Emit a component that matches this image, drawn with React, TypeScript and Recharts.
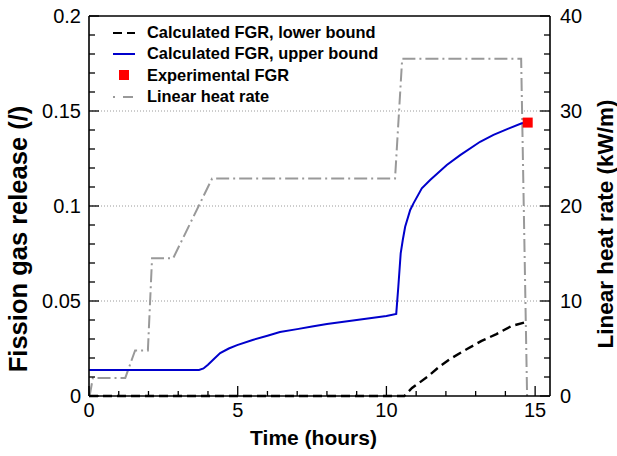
import {
  ComposedChart,
  Label,
  Legend,
  Line,
  ReferenceLine,
  Scatter,
  XAxis,
  YAxis,
} from 'recharts'

const FONT = '"Liberation Sans", Arial, Helvetica, sans-serif'

// axis ticks (minor + major, labels only on majors)
const timeTicks = [0, 1, 2, 3, 4, 5, 6, 7, 8, 9, 10, 11, 12, 13, 14, 15]
const fgrTicks = [
  0, 0.01, 0.02, 0.03, 0.04, 0.05, 0.06, 0.07, 0.08, 0.09, 0.1, 0.11, 0.12,
  0.13, 0.14, 0.15, 0.16, 0.17, 0.18, 0.19, 0.2,
]
const heatTicks = [
  0, 2, 4, 6, 8, 10, 12, 14, 16, 18, 20, 22, 24, 26, 28, 30, 32, 34, 36, 38, 40,
]
const gridLevels = [0.05, 0.1, 0.15]

// linear heat rate (kW/m)
const heatTime = [0.02, 0.13, 1.22, 1.55, 1.98, 2.12, 2.83, 4.14, 10.29, 10.53, 14.53, 14.73]
const heatRate = [0, 1.9, 1.9, 4.8, 4.8, 14.5, 14.5, 22.9, 22.9, 35.5, 35.5, 0]

// calculated FGR, lower bound
const lowerTime = [0, 10.6, 10.86, 11.37, 11.77, 12.14, 12.71, 13.2, 13.7, 14.2, 14.72]
const lowerFgr = [0, 0, 0.0042, 0.01, 0.0153, 0.0195, 0.0247, 0.029, 0.0326, 0.0368, 0.039]

// calculated FGR, upper bound
const upperTime = [
  0, 3.7, 3.85, 4.0, 4.2, 4.41, 4.7, 4.98, 5.5, 6.0, 6.42, 7.0, 7.5, 8.0, 8.5,
  9.0, 9.5, 10.0, 10.33, 10.4, 10.48, 10.55, 10.63, 10.8, 10.91, 11.19, 11.47,
  12.03, 12.48, 13.15, 13.6, 14.1, 14.55, 14.72,
]
const upperFgr = [
  0.0137, 0.0137, 0.0145, 0.0165, 0.0195, 0.0226, 0.025, 0.0268, 0.0295,
  0.0317, 0.0337, 0.0352, 0.0366, 0.0379, 0.039, 0.04, 0.0411, 0.0421, 0.0432,
  0.0575, 0.0751, 0.0821, 0.0891, 0.0979, 0.1014, 0.1093, 0.1137, 0.1216,
  0.1268, 0.1338, 0.1374, 0.1407, 0.1435, 0.1438,
]

// experimental FGR
const expTime = [14.75]
const expFgr = [0.1439]

const legendLabels = [
  'Calculated FGR, lower bound',
  'Calculated FGR, upper bound',
  'Experimental FGR',
  'Linear heat rate',
]

const heatData = heatTime.map((t, i) => ({ t, q: heatRate[i] }))
const lowerData = lowerTime.map((t, i) => ({ t, fgr: lowerFgr[i] }))
const upperData = upperTime.map((t, i) => ({ t, fgr: upperFgr[i] }))
const expData = expTime.map((t, i) => ({ t, fgr: expFgr[i] }))

const textStyle = { fontFamily: FONT, fill: '#000' }

const TimeTick = ({ x, y, payload }: any) => {
  const major = payload.value % 5 === 0
  return (
    <g>
      <line x1={x} y1={y} x2={x} y2={y - (major ? 10 : 5)} stroke="#000" strokeWidth={1.3} />
      {major && (
        <text x={x} y={y + 21} textAnchor="middle" fontSize={20} {...textStyle}>
          {payload.value}
        </text>
      )}
    </g>
  )
}

const FgrTick = ({ x, y, payload }: any) => {
  const major = Math.round(payload.value * 100) % 5 === 0
  return (
    <g>
      <line x1={x} y1={y} x2={x + (major ? 10 : 6)} y2={y} stroke="#000" strokeWidth={1.3} />
      {major && (
        <text x={x - 8} y={y + 7} textAnchor="end" fontSize={20} {...textStyle}>
          {payload.value}
        </text>
      )}
    </g>
  )
}

const HeatTick = ({ x, y, payload }: any) => {
  const major = payload.value % 10 === 0
  return (
    <g>
      <line x1={x} y1={y} x2={x - (major ? 10 : 6)} y2={y} stroke="#000" strokeWidth={1.3} />
      {major && (
        <text x={x + 10} y={y + 7} textAnchor="start" fontSize={20} {...textStyle}>
          {payload.value}
        </text>
      )}
    </g>
  )
}

const timeTitle = ({ viewBox }: any) => (
  <text
    x={viewBox.x + viewBox.width / 2 - 6}
    y={viewBox.y + 49}
    textAnchor="middle"
    fontSize={21}
    fontWeight="bold"
    {...textStyle}
  >
    Time (hours)
  </text>
)

const fgrTitle = ({ viewBox }: any) => (
  <text
    transform={`translate(${viewBox.x + viewBox.width - 62},${viewBox.y + viewBox.height / 2 + 33}) rotate(-90)`}
    textAnchor="middle"
    fontSize={25.5}
    fontWeight="bold"
    {...textStyle}
  >
    Fission gas release (/)
  </text>
)

const heatTitle = ({ viewBox }: any) => (
  <text
    transform={`translate(${viewBox.x + 63},${viewBox.y + viewBox.height / 2 + 18}) rotate(-90)`}
    textAnchor="middle"
    fontSize={22.5}
    fontWeight="bold"
    {...textStyle}
  >
    Linear heat rate (kW/m)
  </text>
)

const legendIcon = (i: number) => {
  if (i === 0) return <line x1={0} y1={7} x2={22} y2={7} stroke="#000" strokeWidth={2} strokeDasharray="9 5" />
  if (i === 1) return <line x1={0} y1={7} x2={22} y2={7} stroke="#0000cc" strokeWidth={2} />
  if (i === 2) return <rect x={6} y={2} width={10} height={10} fill="#ff0000" />
  return <line x1={0} y1={7} x2={22} y2={7} stroke="#999" strokeWidth={2} strokeDasharray="2 8 10 10" />
}

const LegendBox = () => (
  <div style={{ fontFamily: FONT, fontWeight: 'bold', fontSize: 16.4, color: '#000' }}>
    {legendLabels.map((label, i) => (
      <div key={label} style={{ display: 'flex', alignItems: 'center', height: 21.3 }}>
        <svg width={34} height={14} style={{ flex: 'none' }}>
          {legendIcon(i)}
        </svg>
        <span style={{ whiteSpace: 'nowrap' }}>{label}</span>
      </div>
    ))}
  </div>
)

const ExpSquare = (props: any) => (
  <rect x={props.cx - 5} y={props.cy - 5} width={10} height={10} fill="#ff0000" />
)

export default function App() {
  return (
    <div style={{ position: 'absolute', left: 0, top: 0, width: 617, height: 456, background: '#fff' }}>
      <ComposedChart width={617} height={456} margin={{ top: 16, right: 0, bottom: 0, left: 0 }}>
        <XAxis
          xAxisId="t"
          dataKey="t"
          type="number"
          domain={[0, 15.5]}
          ticks={timeTicks}
          interval={0}
          height={60}
          tickSize={0}
          tickMargin={0}
          tickLine={false}
          tick={<TimeTick />}
          axisLine={{ stroke: '#000', strokeWidth: 1.6 }}
        >
          <Label content={timeTitle} />
        </XAxis>
        <YAxis
          yAxisId="fgr"
          type="number"
          domain={[0, 0.2]}
          ticks={fgrTicks}
          interval={0}
          width={89}
          tickSize={0}
          tickMargin={0}
          tickLine={false}
          tick={<FgrTick />}
          axisLine={{ stroke: '#000', strokeWidth: 1.6 }}
        >
          <Label content={fgrTitle} />
        </YAxis>
        <YAxis
          yAxisId="lhr"
          orientation="right"
          type="number"
          domain={[0, 40]}
          ticks={heatTicks}
          interval={0}
          width={67}
          tickSize={0}
          tickMargin={0}
          tickLine={false}
          tick={<HeatTick />}
          axisLine={{ stroke: '#000', strokeWidth: 1.6 }}
        >
          <Label content={heatTitle} />
        </YAxis>

        {gridLevels.map((v) => (
          <ReferenceLine
            key={v}
            xAxisId="t"
            yAxisId="fgr"
            y={v}
            stroke="#9a9a9a"
            strokeDasharray="1 2"
          />
        ))}
        <ReferenceLine xAxisId="t" yAxisId="fgr" y={0.2} stroke="#000" strokeWidth={1.6} />

        <Line
          xAxisId="t"
          yAxisId="lhr"
          data={heatData}
          dataKey="q"
          type="linear"
          stroke="#999999"
          strokeWidth={2}
          strokeDasharray="13 4 2 4"
          dot={false}
          isAnimationActive={false}
        />
        <Line
          xAxisId="t"
          yAxisId="fgr"
          data={lowerData}
          dataKey="fgr"
          type="linear"
          stroke="#000"
          strokeWidth={2.4}
          strokeDasharray="9 5"
          dot={false}
          isAnimationActive={false}
        />
        <Line
          xAxisId="t"
          yAxisId="fgr"
          data={upperData}
          dataKey="fgr"
          type="linear"
          stroke="#0000cc"
          strokeWidth={2}
          dot={false}
          isAnimationActive={false}
        />
        <Scatter
          xAxisId="t"
          yAxisId="fgr"
          data={expData}
          dataKey="fgr"
          shape={<ExpSquare />}
          isAnimationActive={false}
        />

        <Legend
          content={<LegendBox />}
          layout="horizontal"
          align="center"
          verticalAlign="middle"
          wrapperStyle={{ top: 22, left: 113, width: 'auto' }}
        />
      </ComposedChart>
    </div>
  )
}
